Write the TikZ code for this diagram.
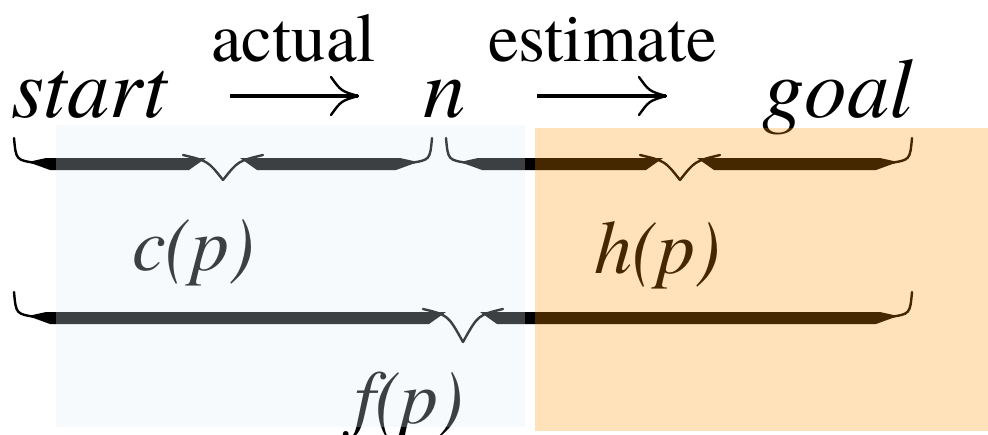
\documentclass[tikz,border=0pt]{standalone}
\usepackage{fontspec}
\IfFontExistsTF{texgyretermes-regular.otf}{%
  \newfontfamily\timesf{texgyretermes}[Extension=.otf, UprightFont=*-regular, ItalicFont=*-italic, BoldFont=*-bold, BoldItalicFont=*-bolditalic]}{%
  \newfontfamily\timesf{Latin Modern Roman}}
\definecolor{bluetint}{RGB}{222,237,244}
\definecolor{orangetint}{RGB}{255,148,0}
\tikzset{
  upr/.style={inner sep=0pt, anchor=base west, font=\timesf\fontsize{69}{80}\selectfont},
  itl/.style={inner sep=0pt, anchor=base west, font=\timesf\fontsize{85}{95}\selectfont\itshape},
  fun/.style={inner sep=0pt, anchor=base west, font=\timesf\fontsize{76}{86}\selectfont\itshape},
  thinl/.style={line width=2.4pt, line cap=round},
  arrowstem/.style={line width=3.2pt},
}
% x1 x2 xm ytop yapex
\newcommand\mybrace[5]{%
  \fill ({#1+14},{#4+4}) -- ({#1+32},{#4}) -- ({#3-17},{#4}) -- ({#3-34},{#4+12}) -- ({#1+36},{#4+12}) -- cycle;
  \fill ({#2-14},{#4+4}) -- ({#2-32},{#4}) -- ({#3+17},{#4}) -- ({#3+34},{#4+12}) -- ({#2-36},{#4+12}) -- cycle;
  \draw[thinl] ({#3-40},{#4-3}) .. controls ({#3-15},{#4+3}) .. ({#3},{#5});
  \draw[thinl] ({#3+40},{#4-3}) .. controls ({#3+15},{#4+3}) .. ({#3},{#5});
  \draw[thinl] ({#1},{#4-20}) .. controls ({#1+2},{#4+2}) .. ({#1+22},{#4+5});
  \draw[thinl] ({#2},{#4-20}) .. controls ({#2-2},{#4+2}) .. ({#2-22},{#4+5});
}
\begin{document}
\begin{tikzpicture}[x=1pt,y=-1pt]
\useasboundingbox[fill=white] (0,0) rectangle (988,434);
% labels
\node[itl] (start) at (11,117) {start};
\node[upr] (actual) at (211,61) {actual};
\node[itl] (n) at (423,117) {n};
\node[upr] (estimate) at (488,61) {estimate};
\node[itl] (goal) at (762,117) {goal};
\node[fun] (c) at (132,270) {c(p)};
\node[fun] (h) at (594,273) {h(p)};
\node[fun] (f) at (354,423) {f(p)};
% arrows
\coordinate (a1s) at (230,96);
\coordinate (a1e) at (358,96);
\coordinate (a2s) at (537,96);
\coordinate (a2e) at (666,96);
\draw[arrowstem] (a1s) -- (a1e);
\draw[thinl] (331,77) .. controls (341,91) .. (a1e);
\draw[thinl] (331,115) .. controls (341,101) .. (a1e);
\draw[arrowstem] (a2s) -- (a2e);
\draw[thinl] (639,77) .. controls (649,91) .. (a2e);
\draw[thinl] (639,115) .. controls (649,101) .. (a2e);
% braces
\mybrace{14}{432}{223}{158}{180}
\mybrace{446}{912}{680}{158}{180}
\mybrace{14}{912}{463}{312}{342}
% tinted overlays
\fill[bluetint, fill opacity=0.27] (56,125) rectangle (525,427);
\fill[orangetint, fill opacity=0.27] (535,128) rectangle (988,431);
\end{tikzpicture}
\end{document}
